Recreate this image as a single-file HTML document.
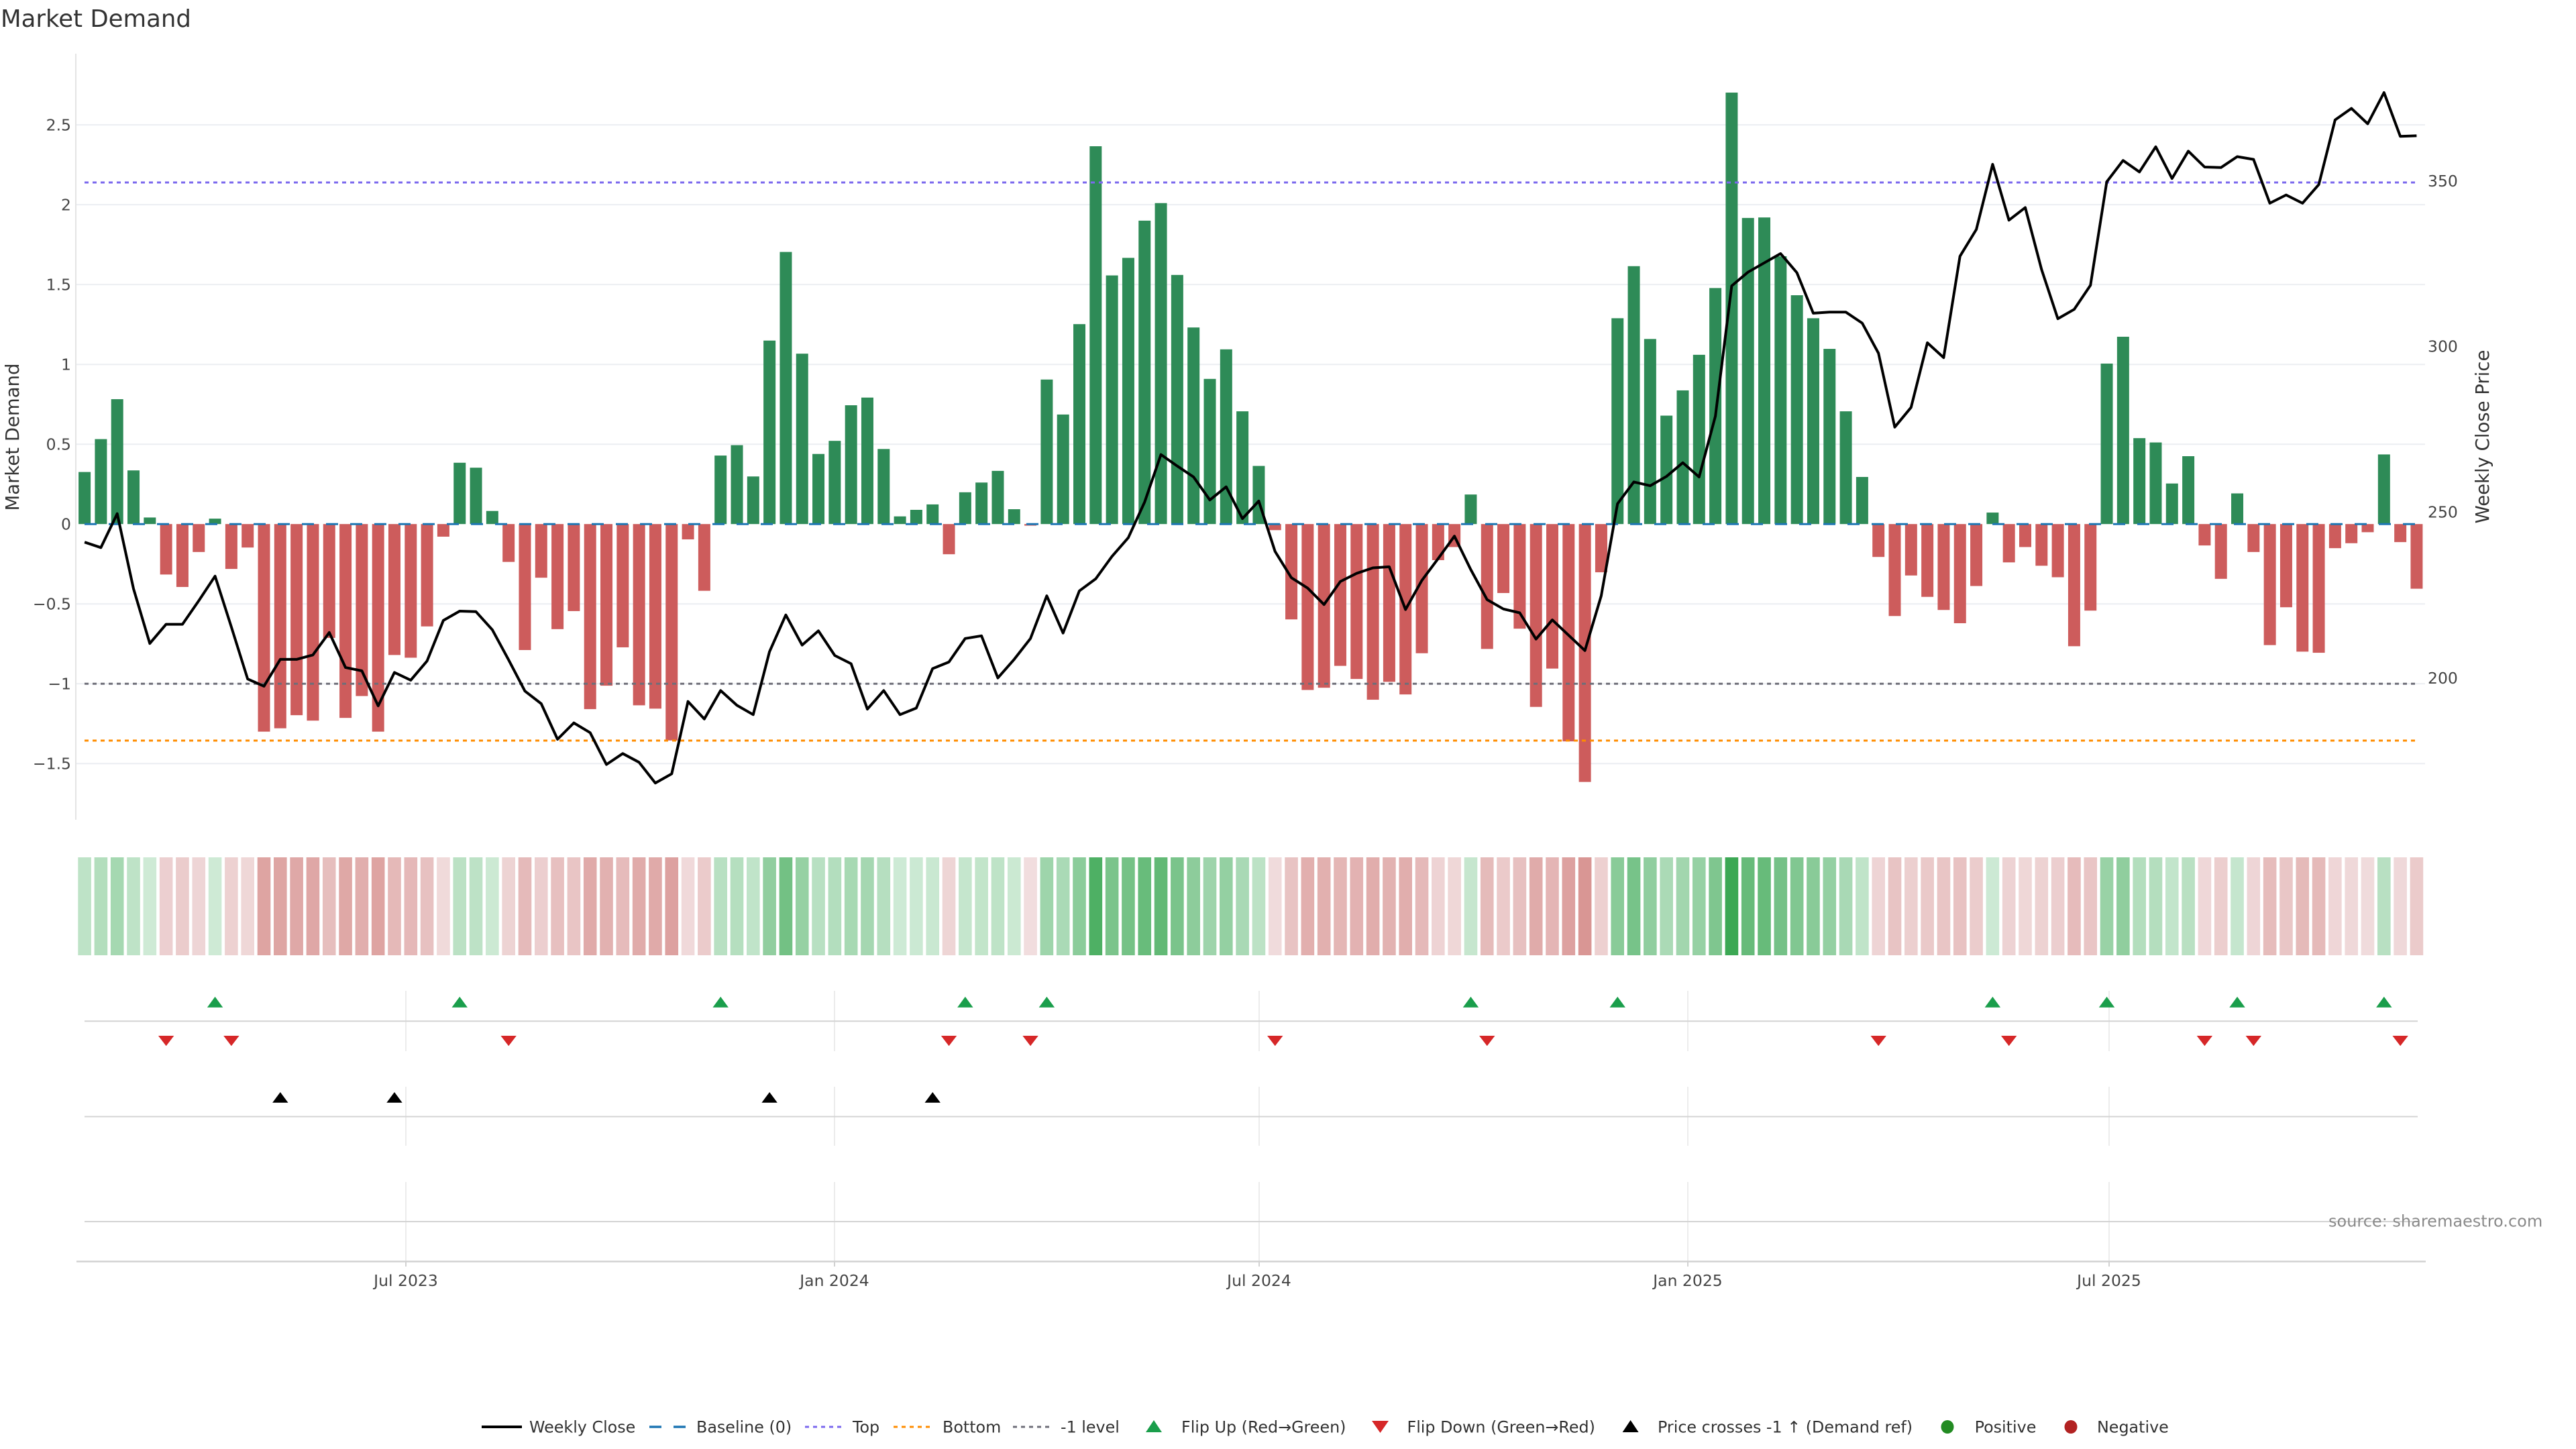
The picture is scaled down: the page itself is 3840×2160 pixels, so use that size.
<!DOCTYPE html>
<html><head><meta charset="utf-8">
<style>
html,body{margin:0;padding:0;background:#fff;}
svg{display:block;}
text{font-family:"DejaVu Sans","Liberation Sans",sans-serif;}
</style></head>
<body>
<svg id="c" width="3840" height="2160" viewBox="0 0 3840 2160" xmlns="http://www.w3.org/2000/svg">
<rect width="3840" height="2160" fill="#fff"/>
<!-- title -->
<text x="1" y="40" font-size="35.5" fill="#333">Market Demand</text>
<!-- main gridlines -->
<g stroke="#eceef2" stroke-width="2">
<line x1="113" x2="3615" y1="186.1" y2="186.1"/>
<line x1="113" x2="3615" y1="305.1" y2="305.1"/>
<line x1="113" x2="3615" y1="424.1" y2="424.1"/>
<line x1="113" x2="3615" y1="543.2" y2="543.2"/>
<line x1="113" x2="3615" y1="662.2" y2="662.2"/>
<line x1="113" x2="3615" y1="900.2" y2="900.2"/>
<line x1="113" x2="3615" y1="1019.2" y2="1019.2"/>
<line x1="113" x2="3615" y1="1138.3" y2="1138.3"/>
</g>
<line x1="113" x2="113" y1="80" y2="1222" stroke="#e4e4e4" stroke-width="2"/>
<!-- left tick labels -->
<g font-size="23.5" fill="#444" text-anchor="end">
<text x="106" y="194.5">2.5</text>
<text x="106" y="313.5">2</text>
<text x="106" y="432.5">1.5</text>
<text x="106" y="551.6">1</text>
<text x="106" y="670.6">0.5</text>
<text x="106" y="789.6">0</text>
<text x="106" y="908.6">&#8722;0.5</text>
<text x="106" y="1027.6">&#8722;1</text>
<text x="106" y="1146.7">&#8722;1.5</text>
</g>
<!-- right tick labels -->
<g font-size="23.5" fill="#444">
<text x="3619" y="277.8">350</text>
<text x="3619" y="524.3">300</text>
<text x="3619" y="771.7">250</text>
<text x="3619" y="1019">200</text>
</g>
<text transform="translate(28,651.5) rotate(-90)" font-size="27.5" fill="#333" text-anchor="middle">Market Demand</text>
<text transform="translate(3710,651) rotate(-90)" font-size="27.5" fill="#333" text-anchor="middle">Weekly Close Price</text>

<g id="bars"></g>
<g fill="none">
<line x1="126" x2="3604" y1="781.2" y2="781.2" stroke="#1f77b4" stroke-width="3" stroke-dasharray="18,18"/>
<line x1="126" x2="3604" y1="272" y2="272" stroke="#7b68ee" stroke-width="3" stroke-dasharray="6,6"/>
<line x1="126" x2="3604" y1="1104" y2="1104" stroke="#ff8c00" stroke-width="3" stroke-dasharray="6,6"/>
<line x1="126" x2="3604" y1="1019.2" y2="1019.2" stroke="#6e6e78" stroke-width="3" stroke-dasharray="6,6"/>
</g>
<polyline id="price" fill="none" stroke="#000" stroke-width="4" stroke-linejoin="round" points=""/>

<!-- heatmap -->
<g id="heat"></g>

<!-- marker rows -->
<g stroke="#ececec" stroke-width="2">
<line x1="605" x2="605" y1="1477" y2="1567"/><line x1="1244" x2="1244" y1="1477" y2="1567"/><line x1="1877" x2="1877" y1="1477" y2="1567"/><line x1="2516" x2="2516" y1="1477" y2="1567"/><line x1="3144" x2="3144" y1="1477" y2="1567"/>
<line x1="605" x2="605" y1="1620" y2="1708"/><line x1="1244" x2="1244" y1="1620" y2="1708"/><line x1="1877" x2="1877" y1="1620" y2="1708"/><line x1="2516" x2="2516" y1="1620" y2="1708"/><line x1="3144" x2="3144" y1="1620" y2="1708"/>
<line x1="605" x2="605" y1="1762" y2="1880"/><line x1="1244" x2="1244" y1="1762" y2="1880"/><line x1="1877" x2="1877" y1="1762" y2="1880"/><line x1="2516" x2="2516" y1="1762" y2="1880"/><line x1="3144" x2="3144" y1="1762" y2="1880"/>
</g>
<g stroke="#d4d4d4" stroke-width="2">
<line x1="126" x2="3604" y1="1522.3" y2="1522.3"/>
<line x1="126" x2="3604" y1="1664.5" y2="1664.5"/>
<line x1="126" x2="3604" y1="1821" y2="1821"/>
</g>
<g id="marks"></g>
<!-- x axis -->
<line x1="114" x2="3616" y1="1880.5" y2="1880.5" stroke="#d2d2d2" stroke-width="2.5"/>
<g stroke="#d2d2d2" stroke-width="2">
<line x1="605" x2="605" y1="1880" y2="1888"/><line x1="1244" x2="1244" y1="1880" y2="1888"/><line x1="1877" x2="1877" y1="1880" y2="1888"/><line x1="2516" x2="2516" y1="1880" y2="1888"/><line x1="3144" x2="3144" y1="1880" y2="1888"/>
</g>
<g font-size="23.5" fill="#444" text-anchor="middle">
<text x="605" y="1917">Jul 2023</text>
<text x="1244" y="1917">Jan 2024</text>
<text x="1877" y="1917">Jul 2024</text>
<text x="2516" y="1917">Jan 2025</text>
<text x="3144" y="1917">Jul 2025</text>
</g>
<text x="3471" y="1828.5" font-size="24" fill="#8a8a8a">source: sharemaestro.com</text>

<!-- legend -->
<g font-size="23.8" fill="#333">
<line x1="718" x2="778" y1="2127" y2="2127" stroke="#000" stroke-width="4"/>
<text x="789" y="2135.5">Weekly Close</text>
<line x1="968" x2="1028" y1="2127" y2="2127" stroke="#1f77b4" stroke-width="3.5" stroke-dasharray="18,18"/>
<text x="1038" y="2135.5">Baseline (0)</text>
<line x1="1200" x2="1260" y1="2127" y2="2127" stroke="#7b68ee" stroke-width="3" stroke-dasharray="6,6"/>
<text x="1271" y="2135.5">Top</text>
<line x1="1332" x2="1392" y1="2127" y2="2127" stroke="#ff8c00" stroke-width="3" stroke-dasharray="6,6"/>
<text x="1405" y="2135.5">Bottom</text>
<line x1="1510" x2="1570" y1="2127" y2="2127" stroke="#6e6e78" stroke-width="3" stroke-dasharray="6,6"/>
<text x="1581" y="2135.5">-1 level</text>
<polygon points="1720,2117 1732,2135 1708,2135" fill="#1a9e4b"/>
<text x="1761" y="2135.5">Flip Up (Red&#8594;Green)</text>
<polygon points="2045,2118 2070,2118 2057.5,2136" fill="#d62728"/>
<text x="2097.5" y="2135.5">Flip Down (Green&#8594;Red)</text>
<polygon points="2430.6,2117 2442.6,2135 2418.6,2135" fill="#000"/>
<text x="2471" y="2135.5">Price crosses -1 &#8593; (Demand ref)</text>
<ellipse cx="2903" cy="2127" rx="9.5" ry="10" fill="#228b22"/>
<text x="2943.6" y="2135.5">Positive</text>
<ellipse cx="3087" cy="2127" rx="9.5" ry="10" fill="#b22222"/>
<text x="3126" y="2135.5">Negative</text>
</g>
</svg>
<script>
(function(){
var V=[0.326,0.532,0.782,0.336,0.041,-0.316,-0.394,-0.175,0.034,-0.281,
-0.147,-1.30,-1.279,-1.197,-1.231,-0.713,-1.214,-1.077,-1.30,-0.82,
-0.837,-0.641,-0.079,0.384,0.353,0.082,-0.237,-0.789,-0.336,-0.658,
-0.545,-1.159,-1.012,-0.772,-1.135,-1.156,-1.355,-0.096,-0.418,0.429,
0.494,0.298,1.149,1.704,1.067,0.439,0.521,0.744,0.792,0.47,
0.048,0.089,0.123,-0.189,0.199,0.26,0.333,0.093,-0.01,0.905,
0.686,1.252,2.366,1.557,1.667,1.9,2.01,1.56,1.231,0.909,
1.094,0.706,0.364,-0.038,-0.597,-1.039,-1.025,-0.888,-0.97,-1.1,
-0.988,-1.067,-0.809,-0.226,-0.144,0.185,-0.782,-0.432,-0.655,-1.145,
-0.905,-1.361,-1.615,-0.302,1.289,1.615,1.159,0.679,0.837,1.06,
1.478,2.702,1.917,1.92,1.677,1.433,1.289,1.097,0.706,0.295,
-0.206,-0.576,-0.322,-0.456,-0.538,-0.621,-0.388,0.072,-0.24,-0.144,
-0.261,-0.333,-0.765,-0.542,1.005,1.173,0.538,0.511,0.254,0.425,
-0.134,-0.343,0.192,-0.175,-0.758,-0.521,-0.799,-0.806,-0.151,-0.12,
-0.051,0.436,-0.113,-0.405];
var L=[990,1000,938,1075,1175,1140,1140,1097,1052,1145,1240,1253,1204,1204,1196,1155,1219,1225,1289,1228,1242,1207,1133,1116,1117,1150,1205,1262,1285,1350,1320,1338,1396,1376,1392,1430,1413,1281,1313,1261,1288,1305,1190,1123,1178,1152,1197,1212,
1295,1261,1305,1293,1221,1209,1166,1161,1238,1204,1166,1088,1156,1079,1057,1016,982,917,830,851,871,913,889,947,915,1007,1055,1074,1104,1062,1047,1037,1035,1113,1060,1020,979,1040,1095,1112,1119,1167,1132,1160,1188,1088,920,880,887,870,845,871,760,
522,497,480,463,498,572,570,570,590,645,780,744,626,653,468,419,300,402,379,492,582,565,521,332,293,314,268,326,276,305,306,286,291,371,356,371,337,219,198,226,169,249,248];
var NS="http://www.w3.org/2000/svg";
function mk(tag,a,p){var e=document.createElementNS(NS,tag);for(var k in a)e.setAttribute(k,a[k]);p.appendChild(e);return e;}
var bars=document.getElementById('bars'),heat=document.getElementById('heat'),marks=document.getElementById('marks');
var pts=[];
function lerp(a,b,t){return [Math.round(a[0]+(b[0]-a[0])*t),Math.round(a[1]+(b[1]-a[1])*t),Math.round(a[2]+(b[2]-a[2])*t)];}
for(var i=0;i<V.length;i++){
 var cx=126.1+24.31*i, v=V[i];
 var y0=781.2, h=Math.abs(v)*238.04;
 mk('rect',{x:(cx-9).toFixed(2),y:(v>=0?y0-h:y0).toFixed(2),width:18,height:Math.max(h,1).toFixed(2),fill:v>=0?'#2e8b57':'#cd5c5c'},bars);
 var c;
 if(v>=0){c=lerp([208,235,215],[60,168,84],Math.min(v/2.7,1));}
 else{c=lerp([241,221,222],[217,150,148],Math.min(-v/1.615,1));}
 mk('rect',{x:(cx-9.8).toFixed(2),y:1278,width:19.6,height:146,fill:'rgb('+c.join(',')+')'},heat);
 pts.push(cx.toFixed(1)+','+(L[i]/1.225).toFixed(1));
 if(i>0){
  if(V[i-1]<0&&v>=0){mk('polygon',{points:(cx)+',1485.7 '+(cx+11.7)+',1501.7 '+(cx-11.7)+',1501.7',fill:'#1a9e4b'},marks);}
  if(V[i-1]>=0&&v<0){mk('polygon',{points:(cx-11.7)+',1544 '+(cx+11.7)+',1544 '+(cx)+',1559.3',fill:'#d62728'},marks);}
 }
}
[12,19,42,52].forEach(function(i){var cx=126.1+24.31*i;mk('polygon',{points:cx+',1628 '+(cx+11.7)+',1643.7 '+(cx-11.7)+',1643.7',fill:'#000'},marks);});
document.getElementById('price').setAttribute('points',pts.join(' '));
})();
</script>
</body></html>
